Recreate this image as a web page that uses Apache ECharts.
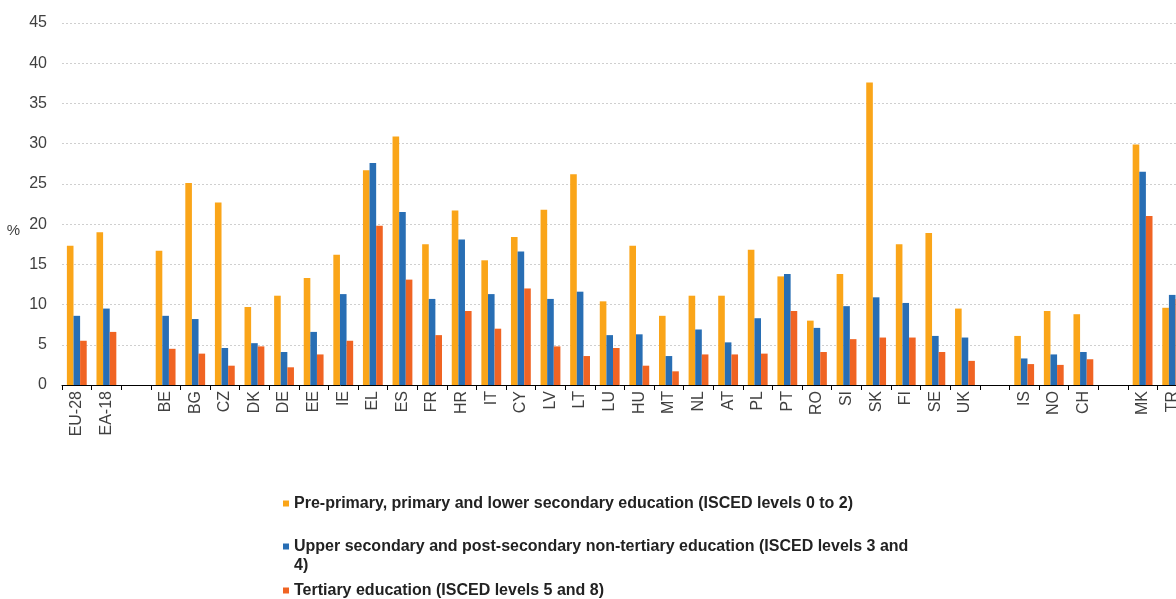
<!DOCTYPE html>
<html>
<head>
<meta charset="utf-8">
<script src="https://cdn.jsdelivr.net/npm/echarts@6/dist/echarts.min.js"></script>
<style>
    html, body { margin: 0; padding: 0; background: #fff; }
    #chart { width: 1176px; height: 599px; }
</style>
</head>
<body>
<div id="chart"></div>
<script>
// blank entries are the gaps between country groups
const categories = ['EU-28', 'EA-18', ' ', 'BE', 'BG', 'CZ', 'DK', 'DE', 'EE', 'IE', 'EL', 'ES', 'FR', 'HR', 'IT', 'CY', 'LV', 'LT', 'LU', 'HU', 'MT', 'NL', 'AT', 'PL', 'PT', 'RO', 'SI', 'SK', 'FI', 'SE', 'UK', '  ', 'IS', 'NO', 'CH', '   ', 'MK', 'TR'];

const lowerSecondary = [17.3, 19.0, null, 16.7, 25.1, 22.7, 9.7, 11.1, 13.3, 16.2, 26.7, 30.9, 17.5, 21.7, 15.5, 18.4, 21.8, 26.2, 10.4, 17.3, 8.6, 11.1, 11.1, 16.8, 13.5, 8.0, 13.8, 37.6, 17.5, 18.9, 9.5, null, 6.1, 9.2, 8.8, null, 29.9, 9.6];
const upperSecondary = [8.6, 9.5, null, 8.6, 8.2, 4.6, 5.2, 4.1, 6.6, 11.3, 27.6, 21.5, 10.7, 18.1, 11.3, 16.6, 10.7, 11.6, 6.2, 6.3, 3.6, 6.9, 5.3, 8.3, 13.8, 7.1, 9.8, 10.9, 10.2, 6.1, 5.9, null, 3.3, 3.8, 4.1, null, 26.5, 11.2];
const tertiary = [5.5, 6.6, null, 4.5, 3.9, 2.4, 4.8, 2.2, 3.8, 5.5, 19.8, 13.1, 6.2, 9.2, 7.0, 12.0, 4.8, 3.6, 4.6, 2.4, 1.7, 3.8, 3.8, 3.9, 9.2, 4.1, 5.7, 5.9, 5.9, 4.1, 3.0, null, 2.6, 2.5, 3.2, null, 21.0, 10.7];

const seriesNames = [
    'Pre-primary, primary and lower secondary education (ISCED levels 0 to 2)',
    'Upper secondary and post-secondary non-tertiary education (ISCED levels 3 and 4)',
    'Tertiary education (ISCED levels 5 and 8)'
];
const colors = ['#FAA519', '#286EB4', '#F06423'];

const font = "'Liberation Sans', Arial, sans-serif";
const legendText = {
    fontFamily: font,
    fontSize: 16,
    fontWeight: 'bold',
    color: '#222',
    lineHeight: 19
};

let chart = echarts.init(document.getElementById('chart'));
const option = {
    animation: false,
    color: colors,
    grid: {
        left: 62,
        top: 23,
        width: 1125,
        height: 362,
        outerBoundsMode: 'none'
    },
    legend: [
        {
            data: [seriesNames[0]],
            left: 283, top: 494, padding: 0,
            icon: 'rect', itemWidth: 6, itemHeight: 6,
            textStyle: legendText
        },
        {
            data: [seriesNames[1]],
            left: 283, top: 518, padding: 0,
            icon: 'rect', itemWidth: 6, itemHeight: 6,
            // leading blank line keeps the icon level with the first text line
            formatter: function (name) {
                return '\n' + name.replace(' 4)', '\n4)');
            },
            textStyle: legendText
        },
        {
            data: [seriesNames[2]],
            left: 283, top: 581, padding: 0,
            icon: 'rect', itemWidth: 6, itemHeight: 6,
            textStyle: legendText
        }
    ],
    xAxis: {
        type: 'category',
        data: categories,
        axisLine: {lineStyle: {color: '#000', width: 1}},
        axisTick: {show: true, length: 5, interval: 0, lineStyle: {color: '#000'}},
        axisLabel: {
            interval: 0,
            rotate: 90,
            margin: 6,
            fontFamily: font,
            fontSize: 16,
            color: '#404040'
        }
    },
    yAxis: {
        type: 'value',
        min: 0,
        max: 45,
        interval: 5,
        // blank lines push the % sign a little below the axis middle
        name: '\n\n\n%',
        nameLocation: 'middle',
        nameRotate: 0,
        nameGap: 42,
        nameTextStyle: {fontFamily: font, fontSize: 15, color: '#404040', lineHeight: 18},
        axisLine: {show: false},
        axisTick: {show: false},
        axisLabel: {margin: 15, fontFamily: font, fontSize: 16, color: '#404040'},
        splitLine: {lineStyle: {color: '#cfcfcf', type: [2, 2], width: 1}}
    },
    series: [
        {name: seriesNames[0], type: 'bar', data: lowerSecondary, barGap: '0%', barCategoryGap: '33%'},
        {name: seriesNames[1], type: 'bar', data: upperSecondary, barGap: '0%', barCategoryGap: '33%'},
        {name: seriesNames[2], type: 'bar', data: tertiary, barGap: '0%', barCategoryGap: '33%'}
    ]
};
chart.setOption(option);
</script>
</body>
</html>
